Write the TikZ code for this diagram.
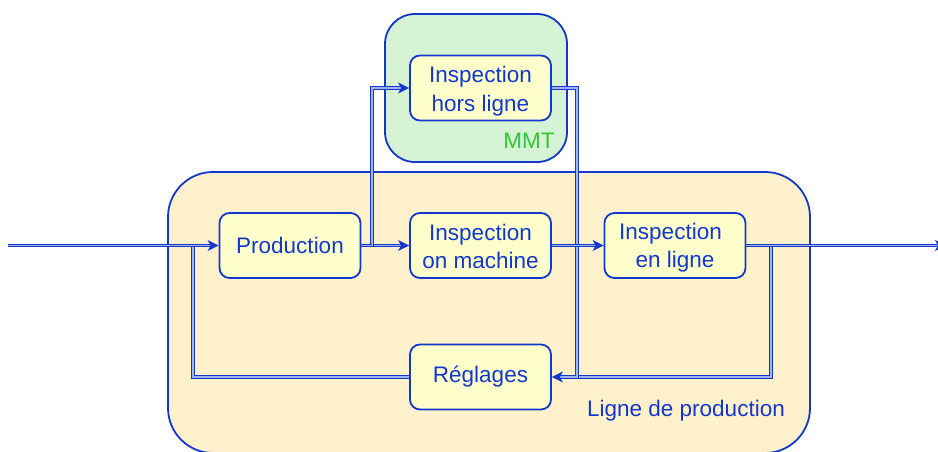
\documentclass[tikz,border=0pt]{standalone}
\usepackage{fontspec}
\setmainfont{Liberation Sans}
\usetikzlibrary{arrows.meta}
\definecolor{lblue}{RGB}{20,55,205}
\definecolor{linner}{RGB}{160,180,240}
\definecolor{byellow}{RGB}{255,255,204}
\definecolor{bigfill}{RGB}{255,241,204}
\definecolor{gfill}{RGB}{214,243,214}
\definecolor{mmtgreen}{RGB}{50,200,50}
\newcommand{\dn}[2]{\raisebox{-#1}[\height][\depth]{#2}}
\tikzset{
  stepbox/.style={draw=lblue, line width=1.8pt, fill=byellow, rounded corners=10pt,
    minimum width=141pt, minimum height=65pt, inner sep=0pt, align=center,
    text=lblue, font=\fontsize{22.5}{28.5}\selectfont},
  dl/.style={draw=lblue, line width=1pt, double=linner, double distance=1.3pt},
  arr/.style={-{Stealth[length=11pt,width=11pt,inset=3pt]}},
  grp/.style={draw=lblue, line width=1.8pt},
  lbl/.style={font=\fontsize{22.5}{28}\selectfont},
}
\begin{document}
\begin{tikzpicture}[x=1pt,y=-1pt]
\useasboundingbox (0,0) rectangle (938,451);
\fill[white] (0,0) rectangle (938,451);
% group boxes
\draw[grp, fill=bigfill, rounded corners=45pt] (168,172) rectangle (810,453);
\draw[grp, fill=gfill, rounded corners=30pt] (385,14) rectangle (567,162);
\node[lbl, text=mmtgreen] (mmt) at (529,141) {MMT};
\node[lbl, text=lblue] (lp) at (686,411) {Ligne de production};
% nodes
\node[stepbox] (hors) at (480.5,88) {\dn{3pt}{Inspection}\\\dn{3pt}{hors ligne}};
\node[stepbox] (prod) at (290,245.5) {Production};
\node[stepbox] (onm) at (480.5,245.5) {\dn{1pt}{Inspection}\\\dn{1pt}{on machine}};
\node[stepbox] (enl) at (675,245.5) {\dn{2pt}{Inspection\hspace*{9pt}}\\\dn{2pt}{en ligne}};
\node[stepbox] (regl) at (480.5,377) {R\'eglages};
% coordinates
\coordinate (in) at (8,245.5);
\coordinate (out) at (946,245.5);
\coordinate (fb) at (193,245.5);
\coordinate (sp1) at (372,245.5);
\coordinate (j2) at (577,377);
\coordinate (sp3) at (771,245.5);
% connectors
\draw[dl] (regl.west) -| (fb);
\draw[dl,arr] (in) -- (prod.west);
\draw[dl,arr] (prod.east) -- (onm.west);
\draw[dl,arr] (sp1) |- (hors.west);
\draw[dl] (prod.east) -- (sp1);
\draw[dl] (sp3) |- (j2);
\draw[dl,arr] (enl.east) -- (out);
\draw[dl,arr] (hors.east) -| (j2) -- (regl.east);
\draw[dl,arr] (onm.east) -- (enl.west);
\end{tikzpicture}
\end{document}
